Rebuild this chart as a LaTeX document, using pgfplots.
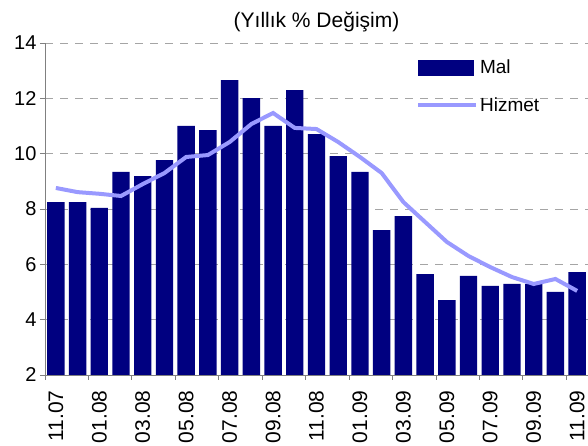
\documentclass[border=0pt]{standalone}
\usepackage{fontspec}
\setmainfont{Liberation Sans}
\usepackage{pgfplots}
\usepackage{pgfplotstable}
\pgfplotsset{compat=1.18}
\definecolor{malnavy}{RGB}{0,0,128}
\definecolor{hizmetblue}{RGB}{153,153,255}
\definecolor{gridgray}{RGB}{165,165,165}
\definecolor{axisgray}{RGB}{128,128,128}

% month index, Mal (bars), Hizmet (line)
\pgfplotstableread{
idx mal   hizmet
0   8.25  8.76
1   8.25  8.61
2   8.04  8.55
3   9.34  8.47
4   9.19  8.90
5   9.77  9.30
6   11.00 9.88
7   10.85 9.95
8   12.66 10.42
9   12.01 11.07
10  11.00 11.47
11  12.30 10.93
12  10.71 10.89
13  9.91  10.42
14  9.34  9.88
15  7.24  9.30
16  7.74  8.25
17  5.65  7.53
18  4.71  6.81
19  5.58  6.30
20  5.22  5.90
21  5.29  5.54
22  5.29  5.29
23  5.00  5.47
24  5.72  5.04
}\data

\begin{document}
\begin{tikzpicture}
\begin{axis}[
  at={(45pt,71pt)}, anchor=south west,
  scale only axis,
  width=543pt, height=332pt,
  xmin=-0.5, xmax=24.5,
  ymin=2, ymax=14,
  axis lines*=left,
  axis line style={draw=axisgray, line width=0.8pt},
  tick align=outside,
  major tick length=5pt,
  tick style={draw=axisgray, line width=0.8pt},
  ytick={2,4,...,14},
  xtick={-0.5,1.5,...,23.5},
  xticklabels={,,,,,,,,,,,,},
  xticklabel shift=8pt,
  extra x ticks={0,2,...,24},
  extra x tick labels={11.07,01.08,03.08,05.08,07.08,09.08,11.08,01.09,03.09,05.09,07.09,09.09,11.09},
  extra x tick style={major tick length=0pt,
    xticklabel style={yshift=-4pt, rotate=90, anchor=east, font=\fontsize{21}{24}\selectfont}},
  ymajorgrids,
  grid style={draw=gridgray, dash pattern=on 8pt off 7pt, line width=0.8pt},
  tick label style={font=\fontsize{20}{24}\selectfont},
  /pgf/number format/assume math mode=true,
  title={(Yıllık \% Değişim)},
  title style={font=\fontsize{21}{24}\selectfont, at={(0.5,1)}, anchor=center, yshift=15pt},
  legend style={at={(0.683,0.955)}, anchor=north west, draw=none, fill=none,
    inner sep=0pt, row sep=18pt, font=\fontsize{19}{22}\selectfont,
    /tikz/every even column/.append style={column sep=3pt}},
  legend cell align=left,
]
\addplot[ybar, bar width=0.8, fill=malnavy, draw=none,
  legend image code/.code={\fill[malnavy] (0pt,-8pt) rectangle (56pt,8pt);}]
  table[x=idx, y=mal] {\data};
\addlegendentry{Mal}
\addplot[sharp plot, color=hizmetblue, line width=4pt, mark=none,
  legend image code/.code={\draw[hizmetblue, line width=4pt] (0pt,0pt) -- (58pt,0pt);}]
  table[x=idx, y=hizmet] {\data};
\addlegendentry{Hizmet}
\end{axis}
\pgfresetboundingbox
\path[use as bounding box] (0,0) rectangle (588pt,446pt);
\end{tikzpicture}
\end{document}
